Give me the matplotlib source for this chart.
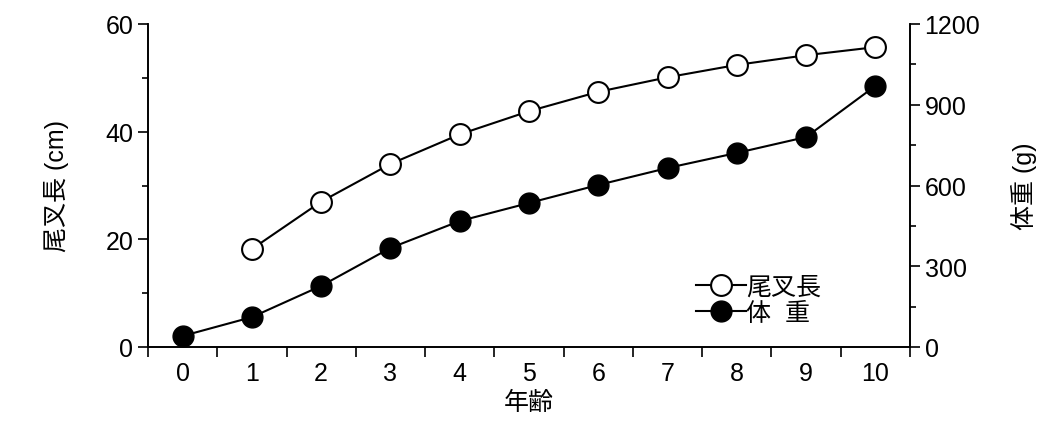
import matplotlib.pyplot as plt
from matplotlib.ticker import MultipleLocator

plt.rcParams['font.family'] = ['Liberation Sans', 'Noto Sans CJK JP']

ages = list(range(11))
fork_age = list(range(1, 11))
fork_len = [18.2, 27.0, 34.0, 39.5, 43.8, 47.4, 50.1, 52.4, 54.2, 55.7]
weight = [41, 111, 227, 368, 468, 535, 602, 665, 721, 780, 970]

fig = plt.figure(figsize=(10.54, 4.39), dpi=100)
ax = fig.add_axes([148/1054, 1-348/439, 762/1054, 323/439])
ax2 = ax.twinx()

l1, = ax.plot(fork_age, fork_len, '-o', color='black', mfc='white', mec='black',
              ms=15, mew=1.5, lw=1.5, label='尾叉長', zorder=3)
l2, = ax2.plot(ages, weight, '-o', color='black', ms=15, lw=1.5, label='体  重')

ax.set_xlim(-0.5, 10.5)
ax.set_ylim(0, 60)
ax2.set_ylim(0, 1200)
ax.set_xticks(ages)
ax.set_xticks([i - 0.5 for i in range(12)], minor=True)
ax.tick_params(axis='x', which='major', length=0, labelsize=18, pad=10)
ax.tick_params(axis='x', which='minor', length=7, width=1.2)
ax.yaxis.set_major_locator(MultipleLocator(20))
ax.yaxis.set_minor_locator(MultipleLocator(10))
ax2.yaxis.set_major_locator(MultipleLocator(300))
ax2.yaxis.set_minor_locator(MultipleLocator(150))
for a in (ax, ax2):
    a.tick_params(axis='y', which='major', length=7, width=1.2, labelsize=18)
    a.tick_params(axis='y', which='minor', length=4, width=1.2)
    a.spines['top'].set_visible(False)
    for s in a.spines.values():
        s.set_linewidth(1.2)

ax.set_xlabel('年齢', fontsize=18, labelpad=4)
ax.set_ylabel('尾叉長 (cm)', fontsize=18, labelpad=26)
ax2.set_ylabel('体重 (g)', fontsize=18, labelpad=22)

ax.legend(handles=[l1, l2], loc='lower right', bbox_to_anchor=(0.9, 0.03),
          frameon=False, fontsize=18, handlelength=2.0, handletextpad=0.0,
          labelspacing=0.1, borderpad=0)

fig.savefig('out.png')
